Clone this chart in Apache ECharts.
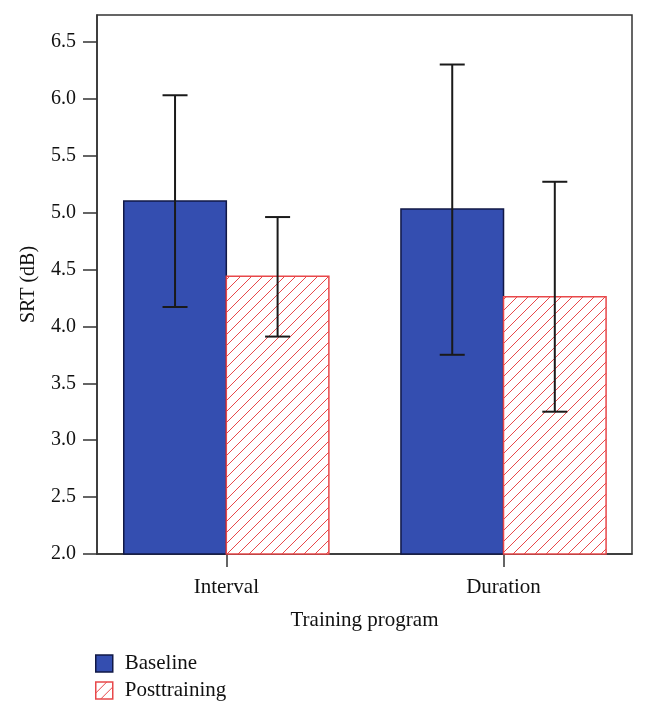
<!DOCTYPE html>
<html>
<head>
<meta charset="utf-8">
<script src="https://cdn.jsdelivr.net/npm/echarts@6/dist/echarts.min.js"></script>
<style>html,body{margin:0;padding:0;background:#fff;}#c{width:646px;height:717px;}</style>
</head>
<body>
<div id="c"></div>
<script>
const categories = ['Interval', 'Duration'];
const baselineMean = [5.10, 5.03];
const baselineLow = [4.17, 3.75];
const baselineHigh = [6.03, 6.30];
const postMean = [4.44, 4.26];
const postLow = [3.91, 3.25];
const postHigh = [4.96, 5.27];
const yTicks = [2.0, 2.5, 3.0, 3.5, 4.0, 4.5, 5.0, 5.5, 6.0, 6.5];
const seriesNames = ['Baseline', 'Posttraining'];

const Y_MIN = 2.0, Y_MAX = 6.735;
const BW = 0.37;
const FONT = 'Liberation Serif';
const BLUE = '#344eb0', BLUE_EDGE = '#111846', RED = '#e8484a', ERR = '#1a1a1a';

function makeHatch() {
  const s = 11;
  const c = document.createElement('canvas');
  c.width = s; c.height = s;
  const g = c.getContext('2d');
  g.fillStyle = '#fff'; g.fillRect(0, 0, s, s);
  g.strokeStyle = RED; g.lineWidth = 1;
  g.beginPath();
  g.moveTo(-1, s + 1); g.lineTo(s + 1, -1);
  g.moveTo(-2, 1); g.lineTo(1, -2);
  g.moveTo(s - 1, s + 2); g.lineTo(s + 2, s - 1);
  g.stroke();
  return c;
}
const hatch = { image: makeHatch(), repeat: 'repeat' };

const baseData = categories.map((c, i) => [i + 1, baselineMean[i], baselineLow[i], baselineHigh[i]]);
const postData = categories.map((c, i) => [i + 1, postMean[i], postLow[i], postHigh[i]]);

function barRender(side, style) {
  return function (params, api) {
    const x = api.value(0), v = api.value(1);
    const x0 = side < 0 ? x - BW : x, x1 = side < 0 ? x : x + BW;
    const p0 = api.coord([x0, v]);
    const p1 = api.coord([x1, Y_MIN]);
    return {
      type: 'rect',
      shape: { x: p0[0], y: p0[1], width: p1[0] - p0[0], height: p1[1] - p0[1] },
      style: style
    };
  };
}
function errRender(side) {
  return function (params, api) {
    const xc = api.value(0) + side * BW / 2;
    const lo = api.coord([xc, api.value(2)]);
    const hi = api.coord([xc, api.value(3)]);
    const hw = 12.5;
    const st = { stroke: ERR, lineWidth: 2 };
    return {
      type: 'group',
      children: [
        { type: 'line', shape: { x1: lo[0], y1: lo[1], x2: hi[0], y2: hi[1] }, style: st },
        { type: 'line', shape: { x1: lo[0] - hw, y1: lo[1], x2: lo[0] + hw, y2: lo[1] }, style: st },
        { type: 'line', shape: { x1: hi[0] - hw, y1: hi[1], x2: hi[0] + hw, y2: hi[1] }, style: st }
      ]
    };
  };
}

const chart = echarts.init(document.getElementById('c'), null, { renderer: 'canvas' });
chart.setOption({
  animation: false,
  backgroundColor: '#fff',
  textStyle: { fontFamily: FONT },
  grid: { left: 97, right: 14, top: 15, bottom: 163, show: true, borderColor: '#333', borderWidth: 1.5, backgroundColor: 'transparent' },
  legend: {
    orient: 'vertical', left: 90, top: 648, itemWidth: 17, itemHeight: 17, itemGap: 6,
    textStyle: { fontFamily: FONT, fontSize: 21, color: '#111', padding: [0, 0, 0, 7] },
    data: [
      { name: seriesNames[0], icon: 'rect', itemStyle: { color: BLUE, borderColor: BLUE_EDGE, borderWidth: 1.5 } },
      { name: seriesNames[1], icon: 'rect', itemStyle: { color: hatch, borderColor: RED, borderWidth: 1.5 } }
    ]
  },
  xAxis: {
    type: 'value', min: 0.5335, max: 2.4635,
    name: 'Training program', nameLocation: 'middle', nameGap: 56,
    nameTextStyle: { fontFamily: FONT, fontSize: 21, color: '#111' },
    splitLine: { show: false },
    axisLine: { show: true, lineStyle: { color: '#333', width: 1.5 } },
    axisTick: { show: true, length: 13, customValues: [1, 2], lineStyle: { color: '#333', width: 1.5 } },
    axisLabel: { customValues: [1, 2], margin: 23, fontFamily: FONT, fontSize: 21, color: '#111', formatter: v => categories[Math.round(v) - 1] || '' }
  },
  yAxis: {
    type: 'value', min: Y_MIN, max: Y_MAX,
    name: 'SRT (dB)', nameLocation: 'middle', nameGap: 58, nameRotate: 90,
    nameTextStyle: { fontFamily: FONT, fontSize: 20, color: '#111' },
    splitLine: { show: false },
    axisLine: { show: true, lineStyle: { color: '#333', width: 1.5 } },
    axisTick: { show: true, length: 14, inside: false, customValues: yTicks, lineStyle: { color: '#333', width: 1.5 } },
    axisLabel: { customValues: yTicks, margin: 21, fontFamily: FONT, fontSize: 20, color: '#111', formatter: v => v.toFixed(1) }
  },
  series: [
    { type: 'custom', name: seriesNames[0], data: baseData, itemStyle: { color: BLUE },
      renderItem: barRender(-1, { fill: BLUE, stroke: BLUE_EDGE, lineWidth: 1.5 }), z: 2 },
    { type: 'custom', name: seriesNames[1], data: postData, itemStyle: { color: RED },
      renderItem: barRender(1, { fill: hatch, stroke: RED, lineWidth: 1.5 }), z: 2 },
    { type: 'custom', name: 'errB', data: baseData, renderItem: errRender(-1), z: 3 },
    { type: 'custom', name: 'errP', data: postData, renderItem: errRender(1), z: 3 }
  ]
});
</script>
</body>
</html>
